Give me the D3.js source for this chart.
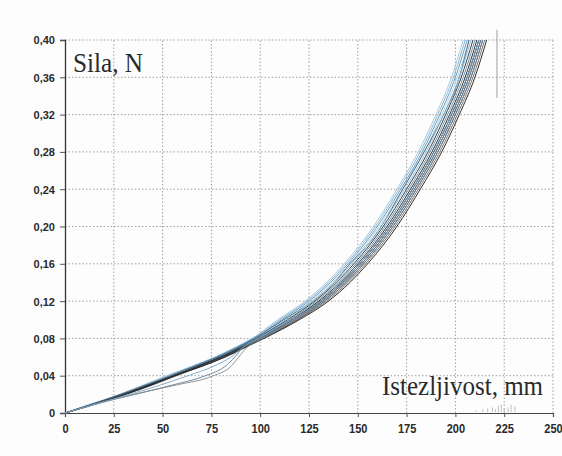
<!DOCTYPE html>
<html><head><meta charset="utf-8">
<script src="https://cdn.jsdelivr.net/npm/d3@7"></script>
<style>html,body{margin:0;padding:0;background:#fdfdfd}svg{display:block}</style>
</head><body><svg id="chart" width="562" height="456"></svg>
<script>
// Force levels (N) at which each specimen's elongation (mm) was read
const forceLevels = [0, 0.01, 0.02, 0.03, 0.04, 0.05, 0.06, 0.07, 0.08, 0.10, 0.12, 0.14, 0.16, 0.18, 0.20, 0.24, 0.28, 0.32, 0.36, 0.40];

// Elongation (mm) of each specimen at the force levels above
const specimen01 = [0,14,28,40,52,65,77,87,96,109,123,134,143,151,158,170,181,190,198,204];
const specimen02 = [0,15,28,41,53,65,77,87,96,110,124,135,144,152,159,171,182,191,199,205];
const specimen03 = [0,14,29,41,54,66,78,88,97,111,125,136,145,153,160,172,183,192,200,206];
const specimen04 = [0,15,29,42,53,66,78,88,97,112,126,137,146,154,161,173,184,193,201,207];
const specimen05 = [0,15,29,42,54,66,78,88,97,112,127,138,146,155,162,173,184,194,202,207];
const specimen06 = [0,16,30,43,55,67,79,89,98,113,127,138,147,155,162,174,185,194,202,208];
const specimen07 = [0,15,29,42,55,67,79,89,98,114,128,139,148,156,163,175,186,195,203,209];
const specimen08 = [0,15,29,42,55,67,79,89,98,115,129,140,149,157,164,176,187,196,204,210];
const specimen09 = [0,16,30,43,56,68,80,90,99,116,130,141,150,158,165,177,188,197,205,211];
const specimen10 = [0,15,29,43,55,68,80,90,99,117,131,142,151,159,166,178,189,198,206,212];
const specimen11 = [0,16,30,43,56,68,80,90,100,116,131,142,151,159,166,178,189,198,206,212];
const specimen12 = [0,15,30,44,56,69,81,91,100,118,132,143,152,160,167,179,190,199,207,213];
const specimen13 = [0,16,31,44,57,69,81,91,101,119,133,144,153,161,168,180,191,200,208,214];
const specimen14 = [0,16,31,45,57,70,82,92,101,119,134,145,154,162,169,181,192,201,209,215];
const specimen15 = [0,16,31,44,56,70,82,92,102,120,135,146,155,163,170,182,193,202,210,216];
const specimen16 = [0,16,36,55,72,82,87,91,100,117,132,143,152,160,167,179,190,199,207,213];
const specimen17 = [0,17,35,57,76,85,89,93,101,118,133,144,153,161,168,180,191,200,208,214];
const specimen18 = [0,16,33,49,63,76,85,91,99,116,131,142,151,159,166,178,189,198,206,212];

const specimens = [specimen01, specimen02, specimen03, specimen04, specimen05, specimen06,
  specimen07, specimen08, specimen09, specimen10, specimen11, specimen12,
  specimen13, specimen14, specimen15, specimen16, specimen17, specimen18];

const specimenColors = ["#9cc4dc", "#7fb0d0", "#5d8fb4", "#a8cde2", "#35607f", "#8dbcd8",
  "#2a2a2a", "#5b8cb0", "#1e1e1e", "#707070", "#262626", "#2f5a7a",
  "#333333", "#6a6a6a", "#1a1a1a", "#5f7f9c", "#8a8a8a", "#7aa6c6"];

const xTicks = [0, 25, 50, 75, 100, 125, 150, 175, 200, 225, 250];
const xTickLabels = ["0", "25", "50", "75", "100", "125", "150", "175", "200", "225", "250"];
const yTicks = [0, 0.04, 0.08, 0.12, 0.16, 0.20, 0.24, 0.28, 0.32, 0.36, 0.40];
const yTickLabels = ["0", "0,04", "0,08", "0,12", "0,16", "0,20", "0,24", "0,28", "0,32", "0,36", "0,40"];

const yTitle = "Sila, N";
const xTitle = "Istezljivost, mm";

// stray pen marks visible on the scanned original: [elongation, force from, force to]
const scanMarks = [[221.3, 0.338, 0.411]];
const scanSpecks = [[210.5, 0.003], [214, 0.004], [216.5, 0.005], [219, 0.006], [220.5, 0.004],
  [222, 0.008], [223.5, 0.009], [225, 0.005], [227, 0.006], [228.5, 0.009], [230.5, 0.007]];

const svg = d3.select("#chart");
const x = d3.scaleLinear().domain([0, 250]).range([65, 553]);
const y = d3.scaleLinear().domain([0, 0.40]).range([413, 40]);

// grid
const grid = svg.append("g");
grid.selectAll("line.v").data(xTicks.slice(1)).join("line")
  .attr("x1", d => x(d)).attr("x2", d => x(d))
  .attr("y1", y(0)).attr("y2", y(0.40))
  .attr("stroke", "#a0a0a0").attr("stroke-width", 1).attr("stroke-dasharray", "1.5,2");
grid.selectAll("line.h").data(yTicks.slice(1)).join("line")
  .attr("x1", x(0)).attr("x2", x(250))
  .attr("y1", d => y(d)).attr("y2", d => y(d))
  .attr("stroke", "#a0a0a0").attr("stroke-width", 1).attr("stroke-dasharray", "1.5,2");

// axes
const yAxis = svg.append("g").attr("transform", `translate(${x(0)},0)`)
  .call(d3.axisLeft(y).tickValues(yTicks).tickSize(5).tickFormat((d, i) => yTickLabels[i]));
yAxis.select(".domain").attr("stroke", "#333").attr("stroke-width", 1.3);
yAxis.selectAll(".tick line").attr("stroke", "#555");
yAxis.selectAll(".tick text").attr("x", -10).attr("dy", "0.36em")
  .attr("font-family", "Liberation Sans, Arial, sans-serif").attr("font-weight", "bold")
  .attr("font-size", 11).attr("fill", "#2a2a2a");

const xAxis = svg.append("g").attr("transform", `translate(0,${y(0)})`)
  .call(d3.axisBottom(x).tickValues(xTicks).tickSize(4).tickFormat((d, i) => xTickLabels[i]));
xAxis.select(".domain").attr("stroke", "#444").attr("stroke-width", 1.2);
xAxis.selectAll(".tick line").attr("stroke", "#555");
xAxis.selectAll(".tick text").attr("y", 0).attr("dy", 0)
  .attr("transform", "translate(0,20) scale(0.85,1)")
  .attr("font-family", "Liberation Sans, Arial, sans-serif").attr("font-weight", "bold")
  .attr("font-size", 13).attr("fill", "#2a2a2a");

// scan marks
svg.append("g").selectAll("line").data(scanMarks).join("line")
  .attr("x1", d => x(d[0])).attr("x2", d => x(d[0]))
  .attr("y1", d => y(d[1])).attr("y2", d => y(d[2]))
  .attr("stroke", "#888").attr("stroke-width", 0.8);
svg.append("g").selectAll("line").data(scanSpecks).join("line")
  .attr("x1", d => x(d[0])).attr("x2", d => x(d[0]))
  .attr("y1", y(0.001)).attr("y2", d => y(d[1]))
  .attr("stroke", "#b0b0b0").attr("stroke-width", 0.8);

// curves
const line = d3.line().x(d => x(d[0])).y(d => y(d[1])).curve(d3.curveMonotoneX);
svg.append("g").selectAll("path").data(specimens).join("path")
  .attr("d", s => line(s.map((e, i) => [e, forceLevels[i]])))
  .attr("fill", "none")
  .attr("stroke", (s, i) => specimenColors[i])
  .attr("stroke-width", 1)
  .attr("stroke-opacity", 0.9);

// titles
svg.append("text").attr("x", 73).attr("y", 72).text(yTitle)
  .attr("font-family", "Liberation Serif, Times New Roman, serif").attr("font-size", 28)
  .attr("textLength", 70).attr("lengthAdjust", "spacingAndGlyphs").attr("fill", "#2a2a2a");
svg.append("text").attr("x", 382).attr("y", 395).text(xTitle)
  .attr("font-family", "Liberation Serif, Times New Roman, serif").attr("font-size", 27)
  .attr("textLength", 161).attr("lengthAdjust", "spacingAndGlyphs").attr("fill", "#2a2a2a");
</script>
</body></html>
